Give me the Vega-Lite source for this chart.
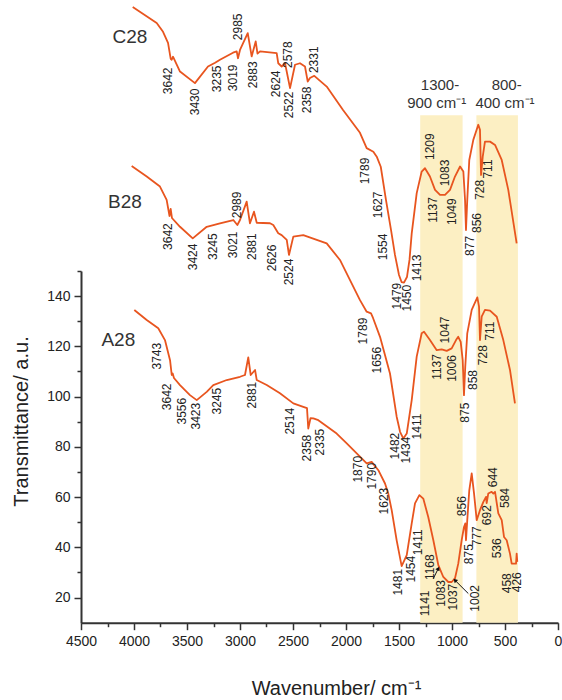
{
"$schema": "https://vega.github.io/schema/vega-lite/v6.json",
"width": 477, "height": 351.7,
"autosize": "none",
"padding": {"left": 81, "top": 271, "right": 4, "bottom": 77.3},
"background": "white",
"config": {"view": {"stroke": null}, "font": "Liberation Sans"},
"datasets": {
"bands": [{"a": 1300, "b": 900}, {"a": 770, "b": 378}],
"spectra": [
{"s":"C28","x":4012,"y":255.1},{"s":"C28","x":3786,"y":248.7},{"s":"C28","x":3726,"y":245.2},{"s":"C28","x":3679,"y":240.8},{"s":"C28","x":3654,"y":234.5},{"s":"C28","x":3644,"y":234.1},{"s":"C28","x":3632,"y":235.3},{"s":"C28","x":3566,"y":229.4},{"s":"C28","x":3425,"y":224.8},{"s":"C28","x":3302,"y":231.4},{"s":"C28","x":3235,"y":232.9},{"s":"C28","x":3189,"y":234.1},{"s":"C28","x":3066,"y":236.9},{"s":"C28","x":3031,"y":237.4},{"s":"C28","x":3019,"y":234.7},{"s":"C28","x":3000,"y":238},{"s":"C28","x":2927,"y":244.7},{"s":"C28","x":2890,"y":235.4},{"s":"C28","x":2852,"y":241.4},{"s":"C28","x":2835,"y":236.5},{"s":"C28","x":2811,"y":237.4},{"s":"C28","x":2654,"y":236.7},{"s":"C28","x":2639,"y":232.7},{"s":"C28","x":2607,"y":231.4},{"s":"C28","x":2575,"y":232.7},{"s":"C28","x":2528,"y":222.8},{"s":"C28","x":2481,"y":232.1},{"s":"C28","x":2434,"y":232.7},{"s":"C28","x":2387,"y":231.4},{"s":"C28","x":2361,"y":225.4},{"s":"C28","x":2340,"y":226.8},{"s":"C28","x":2299,"y":227.7},{"s":"C28","x":2182,"y":223.4},{"s":"C28","x":2028,"y":214.1},{"s":"C28","x":1868,"y":205.0},{"s":"C28","x":1805,"y":198.9},{"s":"C28","x":1742,"y":197.5},{"s":"C28","x":1710,"y":195.5},{"s":"C28","x":1672,"y":191.5},{"s":"C28","x":1623,"y":178.3},{"s":"C28","x":1575,"y":166.3},{"s":"C28","x":1538,"y":156.4},{"s":"C28","x":1500,"y":148.4},{"s":"C28","x":1476,"y":145.6},{"s":"C28","x":1453,"y":145.4},{"s":"C28","x":1425,"y":147.6},{"s":"C28","x":1401,"y":154.4},{"s":"C28","x":1380,"y":165.0},{"s":"C28","x":1333,"y":181.0},{"s":"C28","x":1286,"y":189.6},{"s":"C28","x":1255,"y":190.9},{"s":"C28","x":1208,"y":187.6},{"s":"C28","x":1160,"y":182.3},{"s":"C28","x":1113,"y":180.3},{"s":"C28","x":1066,"y":180.3},{"s":"C28","x":1019,"y":182.3},{"s":"C28","x":972,"y":187.6},{"s":"C28","x":924,"y":191.6},{"s":"C28","x":893,"y":189.6},{"s":"C28","x":877,"y":178.3},{"s":"C28","x":868,"y":166.3},{"s":"C28","x":856,"y":178.3},{"s":"C28","x":837,"y":194.2},{"s":"C28","x":799,"y":202.2},{"s":"C28","x":752,"y":208.2},{"s":"C28","x":736,"y":206.2},{"s":"C28","x":726,"y":188.2},{"s":"C28","x":710,"y":195.5},{"s":"C28","x":689,"y":201.5},{"s":"C28","x":641,"y":201.5},{"s":"C28","x":594,"y":200.2},{"s":"C28","x":531,"y":194.2},{"s":"C28","x":469,"y":182.3},{"s":"C28","x":390,"y":161.0},
{"s":"B28","x":4022,"y":191.8},{"s":"B28","x":3880,"y":187.6},{"s":"B28","x":3755,"y":183.6},{"s":"B28","x":3692,"y":178.3},{"s":"B28","x":3665,"y":171.9},{"s":"B28","x":3654,"y":174.7},{"s":"B28","x":3642,"y":171.1},{"s":"B28","x":3566,"y":167.6},{"s":"B28","x":3446,"y":163.0},{"s":"B28","x":3314,"y":167.6},{"s":"B28","x":3189,"y":169.0},{"s":"B28","x":3063,"y":170.3},{"s":"B28","x":3025,"y":168.3},{"s":"B28","x":3000,"y":170.3},{"s":"B28","x":2937,"y":177.6},{"s":"B28","x":2906,"y":169.0},{"s":"B28","x":2868,"y":173.6},{"s":"B28","x":2842,"y":169.2},{"s":"B28","x":2717,"y":169.0},{"s":"B28","x":2686,"y":168.3},{"s":"B28","x":2639,"y":165.0},{"s":"B28","x":2607,"y":164.3},{"s":"B28","x":2559,"y":162.4},{"s":"B28","x":2538,"y":156.4},{"s":"B28","x":2497,"y":163.7},{"s":"B28","x":2403,"y":164.3},{"s":"B28","x":2182,"y":161.0},{"s":"B28","x":2057,"y":154.4},{"s":"B28","x":1962,"y":146.4},{"s":"B28","x":1868,"y":138.4},{"s":"B28","x":1805,"y":133.8},{"s":"B28","x":1764,"y":133.1},{"s":"B28","x":1745,"y":131.3},{"s":"B28","x":1679,"y":123.8},{"s":"B28","x":1585,"y":109.2},{"s":"B28","x":1522,"y":92.0},{"s":"B28","x":1490,"y":86.0},{"s":"B28","x":1459,"y":83.3},{"s":"B28","x":1427,"y":85.3},{"s":"B28","x":1380,"y":98.6},{"s":"B28","x":1333,"y":115.9},{"s":"B28","x":1286,"y":125.2},{"s":"B28","x":1264,"y":125.8},{"s":"B28","x":1208,"y":122.5},{"s":"B28","x":1144,"y":118.5},{"s":"B28","x":1097,"y":118.8},{"s":"B28","x":1050,"y":118.2},{"s":"B28","x":1003,"y":119.2},{"s":"B28","x":962,"y":122.5},{"s":"B28","x":941,"y":123.8},{"s":"B28","x":918,"y":121.8},{"s":"B28","x":899,"y":114.5},{"s":"B28","x":887,"y":100.6},{"s":"B28","x":875,"y":111.9},{"s":"B28","x":856,"y":125.2},{"s":"B28","x":814,"y":134.5},{"s":"B28","x":761,"y":139.5},{"s":"B28","x":745,"y":135.8},{"s":"B28","x":736,"y":122.5},{"s":"B28","x":720,"y":131.8},{"s":"B28","x":689,"y":134.5},{"s":"B28","x":641,"y":134.2},{"s":"B28","x":578,"y":131.8},{"s":"B28","x":516,"y":122.5},{"s":"B28","x":453,"y":110.6},{"s":"B28","x":406,"y":97.3},
{"s":"A28","x":3997,"y":134.5},{"s":"A28","x":3880,"y":130.5},{"s":"A28","x":3771,"y":127.2},{"s":"A28","x":3708,"y":122.5},{"s":"A28","x":3660,"y":114.5},{"s":"A28","x":3644,"y":108.6},{"s":"A28","x":3635,"y":109.2},{"s":"A28","x":3623,"y":107.4},{"s":"A28","x":3566,"y":104.6},{"s":"A28","x":3472,"y":100.6},{"s":"A28","x":3408,"y":98.6},{"s":"A28","x":3314,"y":101.9},{"s":"A28","x":3252,"y":104.6},{"s":"A28","x":3125,"y":106.6},{"s":"A28","x":3000,"y":107.9},{"s":"A28","x":2953,"y":108.6},{"s":"A28","x":2922,"y":115.6},{"s":"A28","x":2899,"y":108.6},{"s":"A28","x":2858,"y":110.6},{"s":"A28","x":2842,"y":106.6},{"s":"A28","x":2748,"y":104.6},{"s":"A28","x":2623,"y":101.3},{"s":"A28","x":2497,"y":97.3},{"s":"A28","x":2403,"y":95.9},{"s":"A28","x":2368,"y":95.4},{"s":"A28","x":2356,"y":87.3},{"s":"A28","x":2335,"y":91.4},{"s":"A28","x":2308,"y":91.3},{"s":"A28","x":2261,"y":90.6},{"s":"A28","x":2088,"y":85.3},{"s":"A28","x":1993,"y":81.4},{"s":"A28","x":1805,"y":73.4},{"s":"A28","x":1758,"y":74.0},{"s":"A28","x":1695,"y":70.7},{"s":"A28","x":1632,"y":65.4},{"s":"A28","x":1601,"y":61.4},{"s":"A28","x":1569,"y":54.8},{"s":"A28","x":1522,"y":42.8},{"s":"A28","x":1475,"y":32.5},{"s":"A28","x":1427,"y":36.9},{"s":"A28","x":1380,"y":49.5},{"s":"A28","x":1349,"y":57.5},{"s":"A28","x":1308,"y":60.8},{"s":"A28","x":1271,"y":59.4},{"s":"A28","x":1224,"y":52.1},{"s":"A28","x":1176,"y":42.8},{"s":"A28","x":1129,"y":32.9},{"s":"A28","x":1082,"y":28.2},{"s":"A28","x":1035,"y":26.2},{"s":"A28","x":1003,"y":26.2},{"s":"A28","x":972,"y":27.6},{"s":"A28","x":941,"y":33.5},{"s":"A28","x":909,"y":42.8},{"s":"A28","x":887,"y":48.1},{"s":"A28","x":875,"y":49.5},{"s":"A28","x":868,"y":42.8},{"s":"A28","x":856,"y":50.8},{"s":"A28","x":837,"y":62.7},{"s":"A28","x":814,"y":69.4},{"s":"A28","x":792,"y":61.4},{"s":"A28","x":767,"y":50.8},{"s":"A28","x":736,"y":54.8},{"s":"A28","x":704,"y":58.1},{"s":"A28","x":679,"y":60.1},{"s":"A28","x":673,"y":57.6},{"s":"A28","x":658,"y":61.4},{"s":"A28","x":626,"y":62.1},{"s":"A28","x":610,"y":61.4},{"s":"A28","x":594,"y":62.1},{"s":"A28","x":563,"y":53.5},{"s":"A28","x":531,"y":50.8},{"s":"A28","x":509,"y":44.1},{"s":"A28","x":484,"y":42.8},{"s":"A28","x":453,"y":37.5},{"s":"A28","x":437,"y":33.5},{"s":"A28","x":396,"y":33.5},{"s":"A28","x":390,"y":37.5},{"s":"A28","x":384,"y":34.2}
],
"peaks": [
{"t":"3642","x":3679,"y":225.7},{"t":"3430","x":3425,"y":217.3},{"t":"3235","x":3220,"y":226.5},{"t":"3019","x":3063,"y":226.9},{"t":"2985","x":3022,"y":247.2},{"t":"2883","x":2875,"y":228.1},{"t":"2624","x":2660,"y":224.5},{"t":"2578","x":2544,"y":236.1},{"t":"2522","x":2535,"y":216.1},{"t":"2358","x":2371,"y":218.1},{"t":"2331","x":2302,"y":234.1},{"t":"1789","x":1821,"y":189.8},{"t":"1627","x":1695,"y":176.3},{"t":"1554","x":1648,"y":159.6},{"t":"1413","x":1330,"y":151.2},{"t":"1479","x":1522,"y":140.0},{"t":"1450","x":1427,"y":139.2},{"t":"1209","x":1205,"y":199.5},{"t":"1083","x":1066,"y":189.0},{"t":"1137","x":1176,"y":174.3},{"t":"1049","x":1003,"y":173.6},{"t":"877","x":830,"y":160.0},{"t":"856","x":767,"y":169.1},{"t":"728","x":736,"y":182.3},{"t":"711","x":658,"y":190.6},
{"t":"3642","x":3676,"y":163.7},{"t":"3424","x":3446,"y":155.6},{"t":"3245","x":3252,"y":159.7},{"t":"3021","x":3063,"y":160.4},{"t":"2989","x":3025,"y":176.3},{"t":"2881","x":2884,"y":159.7},{"t":"2626","x":2698,"y":155.2},{"t":"2524","x":2538,"y":149.6},{"t":"1789","x":1837,"y":126.1},{"t":"1656","x":1710,"y":114.5},{"t":"1482","x":1538,"y":80.3},{"t":"1434","x":1434,"y":78.7},{"t":"1411","x":1330,"y":88.1},{"t":"1137","x":1144,"y":111.8},{"t":"1006","x":1003,"y":111.2},{"t":"1047","x":1066,"y":126.5},{"t":"875","x":877,"y":93.6},{"t":"858","x":799,"y":106.6},{"t":"728","x":705,"y":116.5},{"t":"711","x":641,"y":126.1},
{"t":"3743","x":3786,"y":116.1},{"t":"3642","x":3692,"y":99.9},{"t":"3556","x":3550,"y":94.2},{"t":"3423","x":3415,"y":92.2},{"t":"3245","x":3220,"y":98.2},{"t":"2881","x":2884,"y":100.6},{"t":"2514","x":2528,"y":90.2},{"t":"2358","x":2368,"y":79.5},{"t":"2335","x":2245,"y":81.9},{"t":"1870","x":1887,"y":71.1},{"t":"1790","x":1755,"y":68.3},{"t":"1623","x":1641,"y":58.4},{"t":"1481","x":1510,"y":26.1},{"t":"1454","x":1386,"y":31.3},{"t":"1411","x":1318,"y":42.0},{"t":"1168","x":1208,"y":32.1},{"t":"1141","x":1255,"y":17.7},{"t":"1083","x":1104,"y":21.7},{"t":"1037","x":990,"y":20.2},{"t":"1002","x":783,"y":19.7},{"t":"856","x":903,"y":56.4},{"t":"875","x":837,"y":37.3},{"t":"777","x":761,"y":44.4},{"t":"692","x":667,"y":52.8},{"t":"644","x":610,"y":67.9},{"t":"584","x":500,"y":59.6},{"t":"536","x":578,"y":39.6},{"t":"458","x":484,"y":25.7},{"t":"426","x":390,"y":26.1}
],
"names": [{"t":"C28","x":4038,"y":243.2},{"t":"B28","x":4085,"y":177.6},{"t":"A28","x":4148,"y":122.5}],
"bandtext": [{"t":"1300-","x":1113,"y":224.1},{"t":"900 cm⁻¹","x":1144,"y":216.8},{"t":"800-","x":484,"y":224.1},{"t":"400 cm⁻¹","x":500,"y":216.8}],
"arrows": [{"x":1176,"y":27.6,"x2":1129,"y2":31.6},{"x":846,"y":21.6,"x2":972,"y2":26.9}]
},
"layer": [
{"data": {"name": "bands"}, "mark": {"type": "rect", "color": "#fcefc3"},
 "encoding": {"x": {"field": "a", "type": "quantitative", "scale": {"domain": [0, 4500], "reverse": true, "nice": false, "zero": false}, "axis": null}, "x2": {"field": "b"},
  "y": {"datum": 10, "type": "quantitative", "scale": {"domain": [10, 150], "nice": false, "zero": false}, "axis": null}, "y2": {"datum": 212}}},
{"data": {"name": "spectra"}, "mark": {"type": "line", "color": "#e8551f", "strokeWidth": 1.8, "strokeJoin": "round", "clip": false},
 "encoding": {
  "x": {"field": "x", "type": "quantitative", "scale": {"domain": [0, 4500], "reverse": true, "nice": false, "zero": false},
   "axis": {"orient": "bottom", "values": [0,500,1000,1500,2000,2500,3000,3500,4000,4500], "format": "d", "grid": false, "domainColor": "#333", "domainWidth": 2, "tickColor": "#333", "tickWidth": 1.5, "tickSize": 7, "labelFontSize": 14, "labelColor": "#222", "labelPadding": 5, "labelFlush": false, "labelOverlap": false, "title": "Wavenumber/ cm⁻¹", "titleFontSize": 20, "titleFontWeight": "normal", "titleColor": "#222", "titleX": 255, "titleY": 72, "titleBaseline": "alphabetic", "titleAlign": "center"}},
  "y": {"field": "y", "type": "quantitative", "scale": {"domain": [10, 150], "nice": false, "zero": false},
   "axis": {"orient": "left", "values": [20,40,60,80,100,120,140], "format": "d", "grid": false, "domainColor": "#333", "domainWidth": 2, "tickColor": "#333", "tickWidth": 1.5, "tickSize": 7, "labelFontSize": 14, "labelColor": "#222", "labelPadding": 4, "labelFlush": false, "title": "Transmittance/ a.u.", "titleFontSize": 20, "titleFontWeight": "normal", "titleColor": "#222", "titleAngle": 270, "titleX": -54, "titleY": 150, "titleBaseline": "alphabetic", "titleAlign": "center"}},
  "detail": {"field": "s"}}},
{"data": {"name": "peaks"}, "mark": {"type": "text", "angle": 270, "fontSize": 12, "align": "center", "baseline": "middle", "color": "#222"},
 "encoding": {
  "x": {"field": "x", "type": "quantitative", "scale": {"domain": [0, 4500], "reverse": true, "nice": false, "zero": false},
   "axis": {"orient": "bottom", "values": [250,750,1250,1750,2250,2750,3250,3750,4250], "labels": false, "domain": false, "grid": false, "tickColor": "#333", "tickWidth": 1.5, "tickSize": 4, "title": null}},
  "y": {"field": "y", "type": "quantitative", "scale": {"domain": [10, 150], "nice": false, "zero": false},
   "axis": {"orient": "left", "values": [30,50,70,90,110,130,150], "labels": false, "domain": false, "grid": false, "tickColor": "#333", "tickWidth": 1.5, "tickSize": 4, "title": null}},
  "text": {"field": "t"}}},
{"data": {"name": "names"}, "mark": {"type": "text", "fontSize": 19, "align": "center", "baseline": "middle", "color": "#333"},
 "encoding": {"x": {"field": "x", "type": "quantitative", "axis": null}, "y": {"field": "y", "type": "quantitative", "axis": null}, "text": {"field": "t"}}},
{"data": {"name": "bandtext"}, "mark": {"type": "text", "fontSize": 15, "align": "center", "baseline": "middle", "color": "#333"},
 "encoding": {"x": {"field": "x", "type": "quantitative", "axis": null}, "y": {"field": "y", "type": "quantitative", "axis": null}, "text": {"field": "t"}}},
{"data": {"name": "arrows"}, "mark": {"type": "rule", "color": "#111", "strokeWidth": 1},
 "encoding": {"x": {"field": "x", "type": "quantitative", "axis": null}, "y": {"field": "y", "type": "quantitative", "axis": null}, "x2": {"field": "x2"}, "y2": {"field": "y2"}}},
{"data": {"values": [{"x": 1129, "y": 31.6}]}, "mark": {"type": "point", "shape": "triangle-up", "filled": true, "size": 22, "angle": 27, "color": "#111", "opacity": 1},
 "encoding": {"x": {"field": "x", "type": "quantitative", "axis": null}, "y": {"field": "y", "type": "quantitative", "axis": null}}},
{"data": {"values": [{"x": 972, "y": 26.9}]}, "mark": {"type": "point", "shape": "triangle-up", "filled": true, "size": 22, "angle": 315, "color": "#111", "opacity": 1},
 "encoding": {"x": {"field": "x", "type": "quantitative", "axis": null}, "y": {"field": "y", "type": "quantitative", "axis": null}}}
],
"resolve": {"axis": {"x": "independent", "y": "independent"}}
}
